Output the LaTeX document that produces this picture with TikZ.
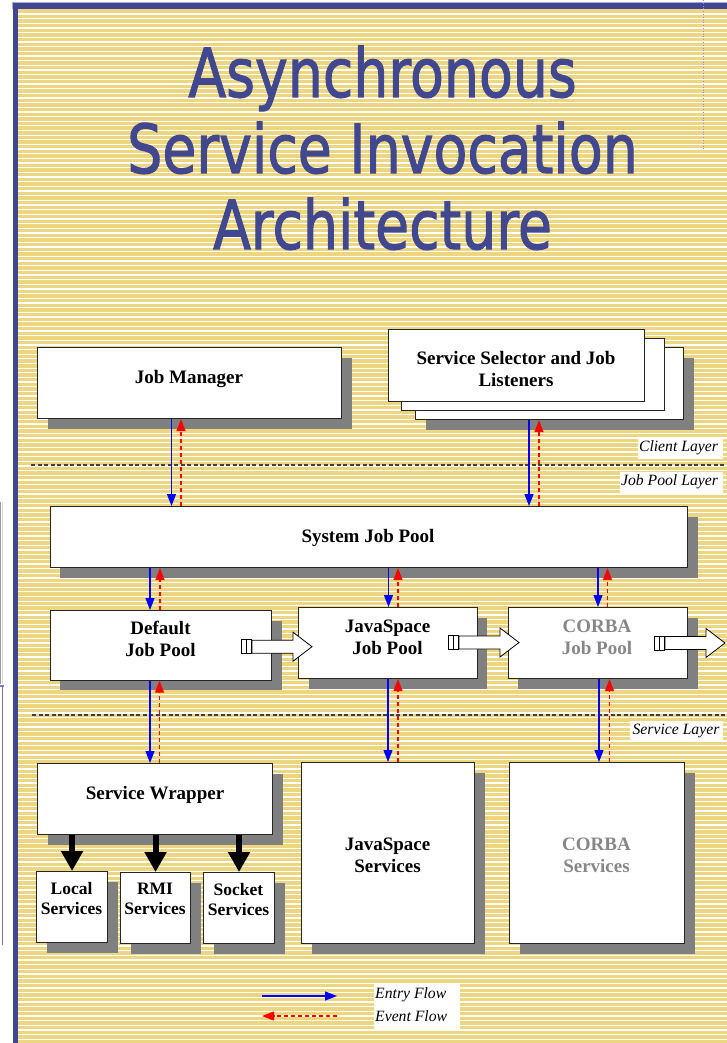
\documentclass[tikz,border=0pt]{standalone}
\usepackage{fontspec}
\setmainfont{Liberation Serif}
\newfontfamily\titlefont[FakeBold=1.8]{DejaVu Sans}
\usetikzlibrary{arrows.meta,shadows}
\definecolor{bgyellow}{RGB}{236,214,130}
\definecolor{frameblue}{RGB}{64,70,145}
\definecolor{titleblue}{RGB}{65,72,143}
\definecolor{shadowgray}{RGB}{128,128,128}
\definecolor{textgray}{RGB}{135,135,135}
\definecolor{flowblue}{RGB}{0,0,255}
\definecolor{flowred}{RGB}{255,0,0}
\newcommand{\titleline}[1]{\scalebox{0.82}[1]{#1}}
\begin{document}
\begin{tikzpicture}[x=1pt,y=-1pt,
  box/.style={draw=black!85, line width=1.1pt, fill=white, inner sep=0pt, anchor=north west},
  shbox/.style={box, general shadow={fill=shadowgray, shadow xshift=10pt, shadow yshift=-10pt}},
  lbl/.style={font=\bfseries\fontsize{19}{22}\selectfont, align=center, inner sep=0pt},
  slbl/.style={font=\bfseries\fontsize{17.5}{20}\selectfont, align=center, inner sep=0pt},
  ilbl/.style={font=\itshape\fontsize{15.7}{18}\selectfont, inner sep=0pt},
  wbox/.style={fill=white, inner sep=0pt},
  titlestyle/.style={anchor=base, font=\titlefont\fontsize{67.5}{76}\selectfont, text=titleblue, inner sep=0pt},
  entry/.style={draw=flowblue, line width=1.2pt, -{Triangle[length=12pt,width=9pt]}},
  event/.style={draw=flowred, line width=1.2pt, dash pattern=on 4pt off 3pt, -{Triangle[length=12pt,width=9pt]}},
  layerline/.style={draw=black!75, line width=1.3pt, dash pattern=on 4pt off 2.5pt},
  bigarr/.style={draw=black, line width=6pt, -{Triangle[length=20pt,width=21pt]}},
  blockarr/.pic={
    \draw[black, line width=0.8pt, fill=white] (0,-7) rectangle (5.5,7);
    \draw[black, line width=0.8pt, fill=white] (5.5,-7) rectangle (10,7);
    \draw[black, line width=0.8pt, fill=white] (11,-6.5) -- (52,-6.5) -- (52,-14.5) -- (71,0) -- (52,14.5) -- (52,6.5) -- (11,6.5) -- cycle;
  }
]
\useasboundingbox (0,0) rectangle (727,1043);
% background
\fill[white] (0,0) rectangle (727,1043);
\fill[bgyellow] (18,9) rectangle (727,1043);
\foreach \i in {0,...,220} {
  \draw[white, line width=1.3pt] (18,{14+4.66*\i}) -- (727,{14+4.66*\i});
}
% frame
\fill[frameblue!45] (11.5,2.5) rectangle (727,9);
\fill[frameblue] (12.5,3.5) rectangle (727,9);
\fill[frameblue] (12.5,3.5) rectangle (18,1043);
% edge artefacts
\draw[gray!80, line width=1.2pt] (0.8,502) -- (0.8,684);
\draw[gray!30, line width=1pt] (2.2,502) -- (2.2,684);
\draw[frameblue!70, line width=2pt] (0,685.5) -- (4,685.5);
\draw[frameblue!75, line width=1.6pt] (2.5,686) -- (2.5,945);
\draw[blue!45, line width=0.8pt, dotted] (703.5,0) -- (703.5,150);

% title
\node[titlestyle] (t1) at (382.5,97) {\titleline{Asynchronous}};
\node[titlestyle] (t2) at (382.5,173) {\titleline{Service Invocation}};
\node[titlestyle] (t3) at (382.5,249) {\titleline{Architecture}};

% layer lines and labels
\coordinate (cl1) at (31,465);
\coordinate (cl2) at (727,465);
\draw[layerline] (cl1) -- (cl2);
\coordinate (sl1) at (32,715);
\coordinate (sl2) at (727,715);
\draw[layerline] (sl1) -- (sl2);
\node[wbox, minimum width=85, minimum height=22] (clb) at (680.5,448) {};
\node[ilbl, anchor=base] (clt) at (678.5,451.7) {Client Layer};
\node[wbox, minimum width=103, minimum height=22] (jplb) at (671.5,483) {};
\node[ilbl, anchor=base] (jplt) at (669.5,485) {Job Pool Layer};
\node[wbox, minimum width=93, minimum height=20] (slb) at (676.5,731) {};
\node[ilbl, anchor=base] (slt) at (676,734.5) {Service Layer};

% client layer
\node[shbox, minimum width=304, minimum height=71] (jm) at (37,347) {};
\node[lbl, anchor=base] (jmt) at (189,383) {Job Manager};
\node[shbox, minimum width=268, minimum height=72] (ss3) at (415,347) {};
\node[box, minimum width=263, minimum height=72] (ss2) at (401,338) {};
\node[box, minimum width=256, minimum height=72] (ss1) at (388,329) {};
\node[lbl] (sst) at (516,368.7) {Service Selector and Job\\Listeners};

% job pool layer
\node[shbox, minimum width=637.5, minimum height=61] (sjp) at (49.5,506) {};
\node[lbl, anchor=base] (sjpt) at (368,542) {System Job Pool};
\node[shbox, minimum width=221.5, minimum height=69.5] (djp) at (49.5,610) {};
\node[lbl] (djpt) at (160.5,639.2) {Default\\Job Pool};
\node[shbox, minimum width=178.5, minimum height=71] (jsp) at (298,607) {};
\node[lbl] (jspt) at (387.5,637.3) {JavaSpace\\Job Pool};
\node[shbox, minimum width=179.5, minimum height=71] (cjp) at (507.5,607) {};
\node[lbl, text=textgray] (cjpt) at (597,637.3) {CORBA\\Job Pool};

% service layer
\node[shbox, minimum width=235, minimum height=71] (sw) at (37,763) {};
\node[lbl, anchor=base] (swt) at (155,799) {Service Wrapper};
\node[shbox, minimum width=71, minimum height=71] (loc) at (36,871) {};
\node[slbl] (loct) at (71.5,898.2) {Local\\Services};
\node[shbox, minimum width=70, minimum height=71] (rmi) at (120,872) {};
\node[slbl] (rmit) at (155,899.3) {RMI\\Services};
\node[shbox, minimum width=71, minimum height=71] (sock) at (203,872) {};
\node[slbl] (sockt) at (238.5,899.2) {Socket\\Services};
\node[shbox, minimum width=173, minimum height=181] (jss) at (301,762) {};
\node[lbl] (jsst) at (387.5,855.7) {JavaSpace\\Services};
\node[shbox, minimum width=175, minimum height=181] (cs) at (509,762) {};
\node[lbl, text=textgray] (cst) at (596.5,855.7) {CORBA\\Services};

% flows client -> job pool
\draw[entry] (jm.south -| 171.5,0) -- (sjp.north -| 171.5,0);
\draw[event] (sjp.north -| 181,0) -- (jm.south -| 181,0);
\draw[entry] (ss3.south -| 529,0) -- (sjp.north -| 529,0);
\draw[event] (sjp.north -| 539,0) -- (ss3.south -| 539,0);
% system pool -> pools
\draw[entry] (sjp.south -| 150,0) -- (djp.north -| 150,0);
\draw[event] (djp.north -| 160,0) -- (sjp.south -| 160,0);
\draw[entry] (sjp.south -| 388.5,0) -- (jsp.north -| 388.5,0);
\draw[event] (jsp.north -| 398,0) -- (sjp.south -| 398,0);
\draw[entry] (sjp.south -| 598,0) -- (cjp.north -| 598,0);
\draw[event] (cjp.north -| 607.5,0) -- (sjp.south -| 607.5,0);
% pools -> services
\draw[entry] (djp.south -| 150,0) -- (sw.north -| 150,0);
\draw[event] (sw.north -| 159.5,0) -- (djp.south -| 159.5,0);
\draw[entry] (jsp.south -| 388,0) -- (jss.north -| 388,0);
\draw[event] (jss.north -| 398,0) -- (jsp.south -| 398,0);
\draw[entry] (cjp.south -| 599,0) -- (cs.north -| 599,0);
\draw[event] (cs.north -| 609.5,0) -- (cjp.south -| 609.5,0);

% wrapper -> concrete services
\draw[bigarr] (sw.south -| loc.north) -- (loc.north);
\draw[bigarr] (sw.south -| rmi.north) -- (rmi.north);
\draw[bigarr] (sw.south -| sock.north) -- (sock.north);

% pool chaining block arrows
\pic at (241,646.7) {blockarr};
\pic at (448,642.5) {blockarr};
\pic at (654,643) {blockarr};

% legend
\coordinate (le1) at (262,996);
\coordinate (le2) at (337,996);
\draw[entry] (le1) -- (le2);
\coordinate (lv1) at (337,1016);
\coordinate (lv2) at (262,1016);
\draw[event] (lv1) -- (lv2);
\node[wbox, minimum width=86, minimum height=45] (legb) at (417,1006.5) {};
\node[ilbl, anchor=base west] (legt1) at (375,998.3) {Entry Flow};
\node[ilbl, anchor=base west] (legt2) at (375,1021.7) {Event Flow};
\end{tikzpicture}
\end{document}
